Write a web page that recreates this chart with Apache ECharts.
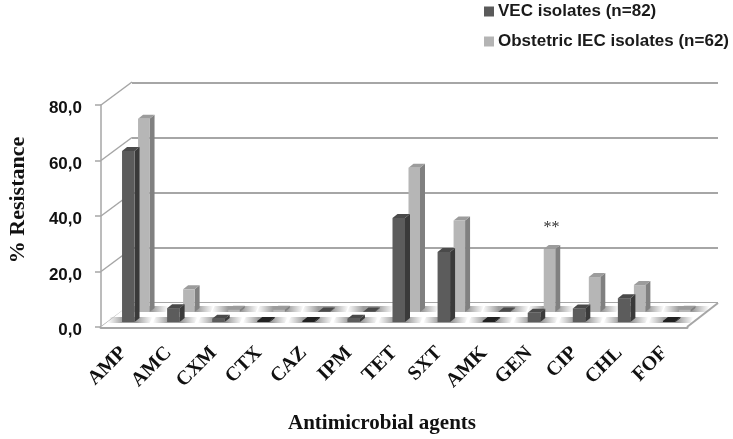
<!DOCTYPE html>
<html><head><meta charset="utf-8">
<style>html,body{margin:0;padding:0;background:#fff}#c{width:733px;height:439px}</style>
<script src="https://cdn.jsdelivr.net/npm/echarts@6/dist/echarts.min.js"></script>
</head><body><div id="c"></div>
<script>
const categories = ['AMP','AMC','CXM','CTX','CAZ','IPM','TET','SXT','AMK','GEN','CIP','CHL','FOF'];
const vecValues = [61.6,5,1.2,0.4,0.4,1.2,37.5,25.2,0.4,3.3,4.9,8.6,0.4];
const iecValues = [69.6,8.2,0.8,0.8,0.2,0.2,52,33,0.2,22.7,12.6,9.7,0.8];
const annotations = ['','','','','','','','','','**','','',''];
const yTicks = [0,20,40,60,80];
const vecName = 'VEC isolates (n=82)';
const iecName = 'Obstetric IEC isolates (n=62)';
const serif = '"Liberation Serif","Times New Roman",serif';
const sans = '"Liberation Sans",Arial,sans-serif';
const GRID_C = '#a6a6a6';
const DEPTH_X = 31, DEPTH_Y = 24;

function prism(x, base, top, w, dx, dy, c) {
  return [
    {type:'polygon',shape:{points:[[x+w,base],[x+w+dx,base+dy],[x+w+dx,top+dy],[x+w,top]]},style:{fill:c.side}},
    {type:'polygon',shape:{points:[[x,top],[x+w,top],[x+w+dx,top+dy],[x+dx,top+dy]]},style:{fill:c.top}},
    {type:'rect',shape:{x:x,y:top,width:w,height:base-top},style:{fill:c.front}}
  ];
}
function barSeries(name, values, o) {
  return {
    name, type:'custom', coordinateSystem:'cartesian2d', z:5,
    itemStyle:{color:o.legend},
    data: values.map((v,i)=>[i,v,annotations[i]]),
    renderItem(params, api) {
      const i = api.value(0), v = api.value(1);
      const zero = api.coord([i,0]), p = api.coord([i,v]);
      const x = zero[0]+o.offX, base = zero[1]+o.dy, top = p[1]+o.dy;
      const c = v < 0.5 ? o.tiny : o.color;
      const kids = prism(x, base, top, o.w, 5, -4, c);
      if (o.note && annotations[i]) {
        kids.push({type:'text',style:{text:annotations[i],x:x+o.w/2+2,y:top-21,align:'center',verticalAlign:'middle',
          font:'16px '+serif,fill:'#333'}});
      }
      return {type:'group',children:kids};
    }
  };
}
function shadow(x0,x1,y,h,skew,color){
  return {type:'polygon',shape:{points:[[x0+skew,y-h],[x1+skew,y-h],[x1,y],[x0,y]]},
    style:{fill:{type:'linear',x:0,y:0,x2:1,y2:0,colorStops:[
      {offset:0,color:'rgba(150,150,150,0)'},{offset:.35,color:color},{offset:.65,color:color},{offset:1,color:'rgba(150,150,150,0)'}]}}};
}
const option = {
  animation:false,
  backgroundColor:'#fff',
  legend:{
    data:[vecName,iecName], orient:'vertical', left:479, top:-2, itemWidth:10, itemHeight:10, itemGap:13,
    textStyle:{fontFamily:sans,fontWeight:'bold',fontSize:17,color:'#1a1a1a',padding:[0,0,0,-1]},
    icon:'rect', selectedMode:false
  },
  grid:[
    {left:101,right:46,top:105,bottom:112},
    {left:132,right:15,top:83,bottom:136}
  ],
  xAxis:[
    {type:'category',gridIndex:0,data:categories,
      axisLine:{lineStyle:{color:GRID_C,width:3}},axisTick:{show:false},
      axisLabel:{interval:0,rotate:45,margin:23,fontFamily:serif,fontWeight:'bold',fontSize:20,color:'#111'}},
    {type:'category',gridIndex:1,data:categories,show:false}
  ],
  yAxis:[
    {type:'value',gridIndex:0,min:0,max:80,interval:20,splitLine:{show:false},
      axisLine:{show:true,lineStyle:{color:GRID_C,width:1.5}},
      axisTick:{show:true,length:6,lineStyle:{color:GRID_C,width:1.5}},
      axisLabel:{margin:19,color:'#111',
        formatter:v=>'{s| }\n{a|'+v.toFixed(1).replace('.',',')+'}',
        rich:{a:{fontFamily:sans,fontWeight:'bold',fontSize:17,color:'#111',lineHeight:18,align:'right'},
              s:{fontSize:1,lineHeight:7,height:7}}}},
    {type:'value',gridIndex:1,min:0,max:80,interval:20,
      axisLine:{show:false},axisTick:{show:false},axisLabel:{show:false},
      splitLine:{show:true,lineStyle:{color:GRID_C,width:2}}}
  ],
  graphic:[
    {type:'text',rotation:Math.PI/2,x:18,y:200,style:{text:'% Resistance',align:'center',verticalAlign:'middle',
      font:'bold 22px '+serif,fill:'#111'}},
    {type:'text',x:382,y:424,style:{text:'Antimicrobial agents',align:'center',verticalAlign:'middle',
      font:'bold 21px '+serif,fill:'#111'}}
  ],
  series:[
    {name:'walls',type:'custom',z:2,data:yTicks.map(t=>[0,t]),silent:true,
      renderItem(params,api){
        const p=api.coord([0,api.value(1)]), b=api.size([1,0])[0];
        const x=p[0]-b/2;
        return {type:'line',shape:{x1:x,y1:p[1],x2:x+DEPTH_X,y2:p[1]-DEPTH_Y+1},style:{stroke:GRID_C,lineWidth:1.5}};
      }},
    {name:'floor',type:'custom',z:3,data:[[0,0]],silent:true,
      renderItem(params,api){
        const p=api.coord([0,0]), q=api.coord([categories.length-1,0]), b=api.size([1,0])[0];
        const x0=p[0]-b/2,x1=q[0]+b/2,y=p[1];
        return {type:'group',children:[
          {type:'polygon',shape:{points:[[x0,y],[x1,y],[x1+DEPTH_X,y-DEPTH_Y],[x0+DEPTH_X,y-DEPTH_Y]]},style:{fill:'#fff'}},
          {type:'line',shape:{x1:x1,y1:y,x2:x1+DEPTH_X,y2:y-DEPTH_Y},style:{stroke:GRID_C,lineWidth:2}}
        ]};
      }},
    {name:'floorShade',type:'custom',z:4,data:categories.map((c,i)=>[i,0]),silent:true,
      renderItem(params,api){
        const p=api.coord([api.value(0),0]);
        return {type:'group',children:[
          shadow(p[0]-16,p[0]+26,p[1]-4,6,3,'rgba(140,140,140,.85)'),
          shadow(p[0]-2,p[0]+42,p[1]-15,6,3,'rgba(140,140,140,.85)')
        ]};
      }},
    barSeries(iecName,iecValues,{offX:14.5,w:11.5,dy:-15,note:true,legend:'#b4b4b4',
      color:{front:'#b6b6b6',side:'#808080',top:'#9c9c9c'},
      tiny:{front:'#4a4a4a',side:'#3a3a3a',top:'#4a4a4a'}}),
    barSeries(vecName,vecValues,{offX:-1.5,w:12.5,dy:-5,legend:'#5a5a5a',
      color:{front:'#5c5c5c',side:'#3a3a3a',top:'#4a4a4a'},
      tiny:{front:'#222',side:'#1a1a1a',top:'#222'}})
  ]
};
echarts.init(document.getElementById('c'),null,{renderer:'canvas'}).setOption(option);
</script></body></html>
